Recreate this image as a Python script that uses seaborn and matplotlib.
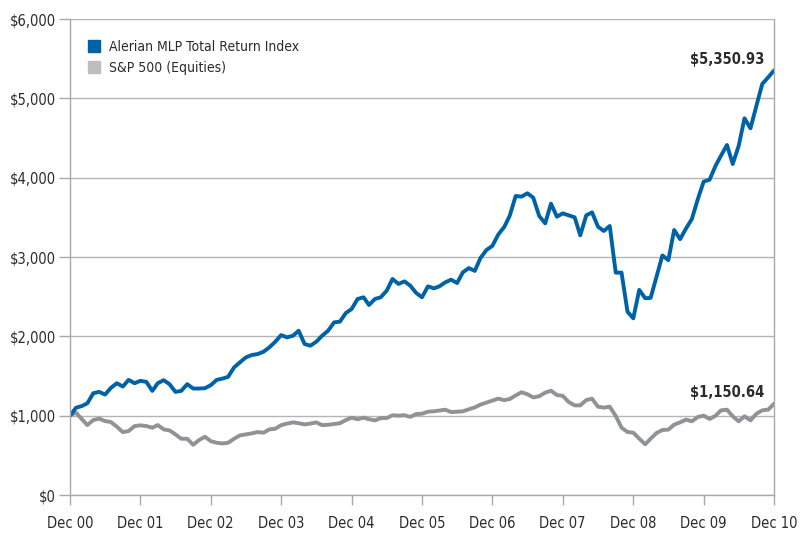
import pandas as pd
import seaborn as sns
import matplotlib.pyplot as plt
from matplotlib import font_manager
from matplotlib.lines import Line2D

# monthly values, Dec 2000 .. Dec 2010 (growth of $1,000)
dates = pd.date_range("2000-12-01", "2010-12-01", freq="MS")

mlp = [1000,
       1100, 1122, 1156, 1283, 1300, 1266, 1350, 1409, 1367, 1451, 1409, 1439,
       1426, 1312, 1409, 1447, 1397, 1300, 1312, 1397, 1342, 1342, 1346, 1384,
       1451, 1468, 1489, 1608, 1671, 1734, 1764, 1776, 1806, 1861, 1932, 2015,
       1987, 2008, 2071, 1903, 1882, 1933, 2008, 2071, 2176, 2185, 2294, 2345,
       2471, 2492, 2395, 2471, 2492, 2576, 2723, 2660, 2693, 2639, 2546, 2492,
       2630, 2605, 2630, 2681, 2714, 2672, 2807, 2860, 2825, 2990, 3090, 3140,
       3285, 3380, 3520, 3769, 3761, 3803, 3748, 3517, 3424, 3672, 3508, 3550,
       3525, 3500, 3273, 3525, 3563, 3382, 3328, 3391, 2803, 2803, 2311, 2227,
       2585, 2480, 2485, 2755, 3020, 2960, 3340, 3225, 3361, 3479, 3731, 3950,
       3975, 4151, 4277, 4412, 4172, 4403, 4748, 4622, 4908, 5181, 5265, 5350.93]

spx = [1000,
       1038, 954, 882, 945, 962, 932, 920, 861, 793, 806, 869, 878,
       869, 848, 882, 827, 814, 764, 709, 709, 633, 692, 734, 679,
       658, 650, 658, 709, 751, 764, 776, 793, 785, 827, 835, 880,
       900, 915, 905, 890, 900, 915, 880, 885, 895, 905, 945, 975,
       955, 975, 955, 940, 970, 970, 1005, 1000, 1005, 985, 1020, 1025,
       1050, 1055, 1065, 1075, 1045, 1050, 1055, 1080, 1105, 1140, 1165, 1190,
       1215, 1195, 1210, 1255, 1295, 1270, 1230, 1245, 1290, 1315, 1260, 1250,
       1172, 1130, 1130, 1197, 1214, 1113, 1101, 1113, 996, 849, 794, 786,
       710, 639, 710, 782, 819, 824, 887, 916, 950, 929, 983, 1000,
       958, 1000, 1067, 1076, 992, 929, 992, 941, 1025, 1067, 1076, 1150.64]

series_names = ["Alerian MLP Total Return Index", "S&P 500 (Equities)"]
tick_labels = ["Dec 00", "Dec 01", "Dec 02", "Dec 03", "Dec 04", "Dec 05",
               "Dec 06", "Dec 07", "Dec 08", "Dec 09", "Dec 10"]
end_labels = ["$5,350.93", "$1,150.64"]

df = pd.concat([
    pd.DataFrame({"date": dates, "value": mlp, "series": series_names[0]}),
    pd.DataFrame({"date": dates, "value": spx, "series": series_names[1]}),
])

blue = "#0062a6"
grey = "#8f9296"
grey_light = "#bdbec1"
txt = "#2b2b2b"
axis_col = "#a9a9a9"

sns.set_theme(style="white")
names = {f.name for f in font_manager.fontManager.ttflist}
if "Liberation Sans Narrow" in names:
    plt.rcParams["font.family"] = ["Liberation Sans Narrow", "DejaVu Sans"]
else:
    plt.rcParams["font.family"] = ["DejaVu Sans"]
    plt.rcParams["font.stretch"] = "condensed"

fig = plt.figure(figsize=(8.09, 5.35), dpi=100)
ax = fig.add_axes([70 / 809, 1 - 495 / 535, 704 / 809, 476 / 535])

sns.lineplot(data=df, x="date", y="value", hue="series",
             hue_order=[series_names[1], series_names[0]],
             palette={series_names[0]: blue, series_names[1]: grey},
             linewidth=2.8, legend=False, ax=ax)

ax.set_xlim(dates[0], dates[-1])
ax.set_ylim(0, 6000)
ax.set_xticks(dates[::12])
ax.set_xticklabels(tick_labels)
ax.set_yticks(range(0, 6001, 1000))
ax.set_yticklabels(["${:,}".format(v) for v in range(0, 6001, 1000)])
ax.set_xlabel("")
ax.set_ylabel("")

ax.grid(axis="y", color="#b5b5b5", linewidth=1.0)
ax.set_axisbelow(True)
for side in ["left", "right", "bottom"]:
    ax.spines[side].set_visible(True)
    ax.spines[side].set_color(axis_col)
    ax.spines[side].set_linewidth(1.0)
ax.spines["top"].set_visible(False)

ax.tick_params(axis="y", direction="out", length=8, width=1.0, color=axis_col,
               pad=2, labelsize=10.5, labelcolor=txt, left=True)
ax.tick_params(axis="x", direction="out", length=7, width=1.0, color=axis_col,
               pad=8, labelsize=10.5, labelcolor=txt, bottom=True)

ax.annotate(end_labels[0], xy=(dates[-1], mlp[-1]), xytext=(-7, 5),
            textcoords="offset points", ha="right", va="baseline",
            fontsize=10.5, fontweight="bold", color=txt)
ax.annotate(end_labels[1], xy=(dates[-1], spx[-1]), xytext=(-7, 5),
            textcoords="offset points", ha="right", va="baseline",
            fontsize=10.5, fontweight="bold", color=txt)

handles = [Line2D([], [], marker="s", linestyle="", markersize=8.5,
                  markerfacecolor=blue, markeredgecolor=blue),
           Line2D([], [], marker="s", linestyle="", markersize=8.5,
                  markerfacecolor=grey_light, markeredgecolor=grey_light)]
ax.legend(handles, series_names, loc="upper left", bbox_to_anchor=(0.024, 0.956),
          borderaxespad=0, borderpad=0,
          frameon=False, fontsize=10, handlelength=1.05, handletextpad=0.55,
          labelspacing=0.5, labelcolor=txt)

fig.savefig("out.png", dpi=100)
